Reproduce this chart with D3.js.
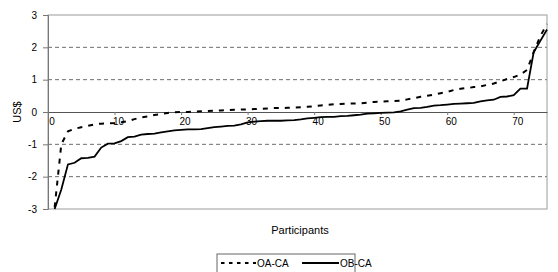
<!DOCTYPE html>
<html>
<head>
<meta charset="utf-8">
<script src="https://cdnjs.cloudflare.com/ajax/libs/d3/7.8.5/d3.min.js"></script>
<style>
  body { margin: 0; background: #fff; }
  svg text { font-family: "Liberation Sans", Arial, sans-serif; fill: #000; }
</style>
</head>
<body>
<svg id="chart" width="558" height="272"></svg>
<script>
// participant index 1..75 (sorted values)
var oaCa = [-2.95, -1.0, -0.6, -0.52, -0.47, -0.43, -0.38, -0.36, -0.35, -0.34,
  -0.32, -0.28, -0.22, -0.17, -0.14, -0.09, -0.06, -0.03, -0.01, 0.0,
  0.0, 0.01, 0.02, 0.03, 0.04, 0.05, 0.06, 0.07, 0.08, 0.08,
  0.09, 0.1, 0.11, 0.12, 0.12, 0.13, 0.14, 0.15, 0.16, 0.18,
  0.2, 0.22, 0.24, 0.25, 0.26, 0.26, 0.27, 0.29, 0.31, 0.32,
  0.33, 0.34, 0.35, 0.39, 0.43, 0.47, 0.5, 0.54, 0.58, 0.62,
  0.68, 0.72, 0.74, 0.77, 0.79, 0.84, 0.88, 0.95, 1.02, 1.08,
  1.16, 1.3, 1.85, 2.35, 2.72];

var obCa = [-3.0, -2.4, -1.62, -1.57, -1.43, -1.42, -1.38, -1.1, -0.98, -0.97,
  -0.9, -0.78, -0.76, -0.7, -0.68, -0.67, -0.63, -0.6, -0.57, -0.55,
  -0.54, -0.54, -0.53, -0.5, -0.47, -0.45, -0.43, -0.42, -0.38, -0.32,
  -0.3, -0.28, -0.27, -0.27, -0.27, -0.26, -0.25, -0.23, -0.2, -0.18,
  -0.16, -0.15, -0.15, -0.13, -0.12, -0.1, -0.08, -0.05, -0.04, -0.03,
  -0.02, -0.01, 0.02, 0.07, 0.12, 0.13, 0.16, 0.2, 0.21, 0.23,
  0.25, 0.26, 0.27, 0.28, 0.33, 0.36, 0.38, 0.47, 0.48, 0.52,
  0.72, 0.72, 1.85, 2.2, 2.55];

var xTicks = [0, 10, 20, 30, 40, 50, 60, 70];
var yTicks = [-3, -2, -1, 0, 1, 2, 3];
var seriesNames = ["OA-CA", "OB-CA"];

var svg = d3.select("#chart");
var pLeft = 48, pRight = 547, pTop = 15, pBottom = 209;

var x = d3.scaleLinear().domain([0, 75]).range([pLeft, pRight]);
var y = d3.scaleLinear().domain([-3, 3]).range([pBottom, pTop]);

// gridlines (dashed)
svg.selectAll(".grid")
  .data(yTicks.filter(function(d) { return d != 0 && d != 3 && d != -3; }))
  .enter().append("line")
  .attr("x1", pLeft).attr("x2", pRight)
  .attr("y1", function(d) { return y(d); })
  .attr("y2", function(d) { return y(d); })
  .attr("stroke", "#6e6e6e")
  .attr("stroke-width", 1)
  .attr("stroke-dasharray", "4,3");

// plot frame
svg.append("rect")
  .attr("x", pLeft).attr("y", pTop)
  .attr("width", pRight - pLeft).attr("height", pBottom - pTop)
  .attr("fill", "none")
  .attr("stroke", "#9a9a9a")
  .attr("stroke-width", 1);

// y axis
var yAxis = svg.append("g")
  .attr("transform", "translate(" + pLeft + ",0)")
  .call(d3.axisLeft(y).tickValues(yTicks).tickSize(5).tickPadding(6)
    .tickFormat(function(d) { return String(d); }));
yAxis.select(".domain").attr("stroke", "#777");
yAxis.selectAll(".tick line").attr("stroke", "#777");
yAxis.selectAll("text").style("font-size", "10px").attr("fill", "#000");

// x axis on zero line
var xAxis = svg.append("g")
  .attr("transform", "translate(0," + y(0) + ")")
  .call(d3.axisBottom(x).tickValues(xTicks).tickSize(3).tickPadding(3).tickSizeOuter(0)
    .tickFormat(function(d) { return String(d); }));
xAxis.select(".domain").attr("stroke", "#555");
xAxis.selectAll(".tick line").attr("stroke", "#777");
xAxis.selectAll("text").style("font-size", "10px").attr("fill", "#000").attr("dx", "3.5");

var line = d3.line()
  .x(function(d, i) { return x(i + 1); })
  .y(function(d) { return y(d); });

svg.append("path")
  .datum(oaCa)
  .attr("d", line)
  .attr("fill", "none")
  .attr("stroke", "#000")
  .attr("stroke-width", 2)
  .attr("stroke-dasharray", "5,6");

svg.append("path")
  .datum(obCa)
  .attr("d", line)
  .attr("fill", "none")
  .attr("stroke", "#000")
  .attr("stroke-width", 1.8);

// axis titles
svg.append("text")
  .attr("transform", "translate(21," + y(0) + ") rotate(-90)")
  .attr("text-anchor", "middle")
  .style("font-size", "11px")
  .text("US$");

svg.append("text")
  .attr("x", 300).attr("y", 234)
  .attr("text-anchor", "middle")
  .style("font-size", "11px")
  .text("Participants");

// legend
var lg = svg.append("g").attr("transform", "translate(217,254)");
lg.append("rect")
  .attr("x", 0).attr("y", 0).attr("width", 138).attr("height", 24)
  .attr("fill", "#fff").attr("stroke", "#666");
lg.append("line")
  .attr("x1", 4).attr("x2", 39).attr("y1", 9).attr("y2", 9)
  .attr("stroke", "#000").attr("stroke-width", 2).attr("stroke-dasharray", "3.5,4.5");
lg.append("text").attr("x", 40).attr("y", 12.5).style("font-size", "10px").text(seriesNames[0]);
lg.append("line")
  .attr("x1", 85).attr("x2", 122).attr("y1", 9).attr("y2", 9)
  .attr("stroke", "#000").attr("stroke-width", 1.8);
lg.append("text").attr("x", 123).attr("y", 12.5).style("font-size", "10px").text(seriesNames[1]);
</script>
</body>
</html>
